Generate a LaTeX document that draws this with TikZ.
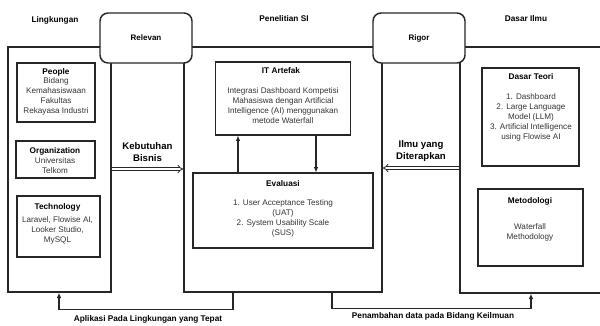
\documentclass[tikz,border=0pt]{standalone}
\usepackage{fontspec}
\setmainfont{Liberation Sans}
\usetikzlibrary{arrows.meta,positioning}

\tikzset{
  frame/.style={draw=black!85, line width=1.1pt},
  tag/.style={draw=black!85, line width=1.1pt, rounded corners=6pt, fill=white,
    font=\bfseries\fontsize{6}{7.5}\selectfont},
  card/.style={draw=black!85, line width=0.9pt},
  sz/.style 2 args={minimum width=#1*0.75pt, minimum height=#2*0.75pt, inner sep=0pt},
  hd/.style={inner sep=0pt, font=\bfseries\fontsize{6.2}{7.5}\selectfont},
  txt/.style={inner sep=0pt, align=center, text=black!80, font=\fontsize{6.1}{7.5}\selectfont},
  big/.style={inner sep=0pt, align=center, font=\bfseries\fontsize{7.2}{8.8}\selectfont},
  arr/.style={draw=black!85, line width=0.9pt, -{Latex[length=4pt,width=3.5pt]}},
  dbl/.style={draw=black!85, double, double distance=1.6pt, line width=0.6pt, -{Implies[scale=1.3]}}
}

\begin{document}
\begin{tikzpicture}[x=0.75pt, y=-0.75pt]
\path[use as bounding box, clip] (0,0) rectangle (600,325);

% outer frames
\node[frame, sz={103}{245}] (lingk) at (59.5,169.5) {};
\node[frame, sz={198}{245}] (penel) at (283,169.5) {};
\node[frame, sz={160}{246}] (dasar) at (540,170) {};

% tags on top
\node[tag, sz={92}{50}] (relevan) at (146,38) {Relevan};
\node[tag, sz={92}{50}] (rigor) at (419,38) {Rigor};

\node[hd] (lingkT) at (55,20) {Lingkungan};
\node[hd] (penelT) at (284,19) {Penelitian SI};
\node[hd] (dasarT) at (526,19) {Dasar Ilmu};

% lingkungan
\node[card, sz={78}{59}] (people) at (56,92.5) {};
\node[hd] (peopleT) at (56,72.5) {People};
\node[txt, anchor=north] (peopleB) at (56,77.5) {Bidang\\Kemahasiswaan\\Fakultas\\Rekayasa Industri};

\node[card, sz={79}{37}] (org) at (55.5,159.5) {};
\node[hd] (orgT) at (55,151) {Organization};
\node[txt, anchor=north] (orgB) at (55,157.5) {Universitas\\Telkom};

\node[card, sz={83}{61}] (tech) at (58.5,226.5) {};
\node[hd] (techT) at (57.5,207) {Technology};
\node[txt, anchor=north] (techB) at (57.5,216.5) {Laravel, Flowise AI,\\Looker Studio,\\MySQL};

% penelitian SI
\node[card, sz={135}{73}] (itart) at (283,98.5) {};
\node[hd] (itartT) at (281,71) {IT Artefak};
\node[txt, anchor=north] (itartB) at (283,87.5) {Integrasi Dashboard Kompetisi\\Mahasiswa dengan Artificial\\Intelligence (AI) menggunakan\\metode Waterfall};

\node[card, sz={180}{75}] (eval) at (283,210.5) {};
\node[hd] (evalT) at (283,184) {Evaluasi};
\node[txt, anchor=north] (evalB) at (283,199.5) {1. User Acceptance Testing\\(UAT)\\2. System Usability Scale\\(SUS)};

\draw[arr] (eval.north -| 238,0) -- (itart.south -| 238,0);
\draw[arr] (itart.south -| 316,0) -- (eval.north -| 316,0);

% dasar ilmu
\node[card, sz={97}{98}] (teori) at (530.5,117) {};
\node[hd] (teoriT) at (531,77) {Dasar Teori};
\node[txt, anchor=north] (teoriB) at (531,93.5) {1. Dashboard\\2. Large Language\\Model (LLM)\\3. Artificial Intelligence\\using Flowise AI};

\node[card, sz={105}{77}] (metod) at (530.5,227.5) {};
\node[hd] (metodT) at (530,201) {Metodologi};
\node[txt, anchor=north] (metodB) at (530,223.5) {Waterfall\\Methodology};

% double arrows
\draw[dbl] (lingk.east |- 0,169) -- (penel.west |- 0,169);
\node[big] (kebT) at (147.5,152) {Kebutuhan\\Bisnis};
\draw[dbl] (dasar.west |- 0,168) -- (penel.east |- 0,168);
\node[big] (ilmuT) at (421,151) {Ilmu yang\\Diterapkan};

% feedback lines
\draw[arr] (penel.south -| 233,0) -- ++(0,17) -| (lingk.south -| 59,0);
\node[hd] (aplT) at (148,319) {Aplikasi Pada Lingkungan yang Tepat};
\draw[arr] (penel.south -| 332,0) -- ++(0,16) -| (dasar.south -| 531,0);
\node[hd] (tambahT) at (433,316) {Penambahan data pada Bidang Keilmuan};
\end{tikzpicture}
\end{document}
